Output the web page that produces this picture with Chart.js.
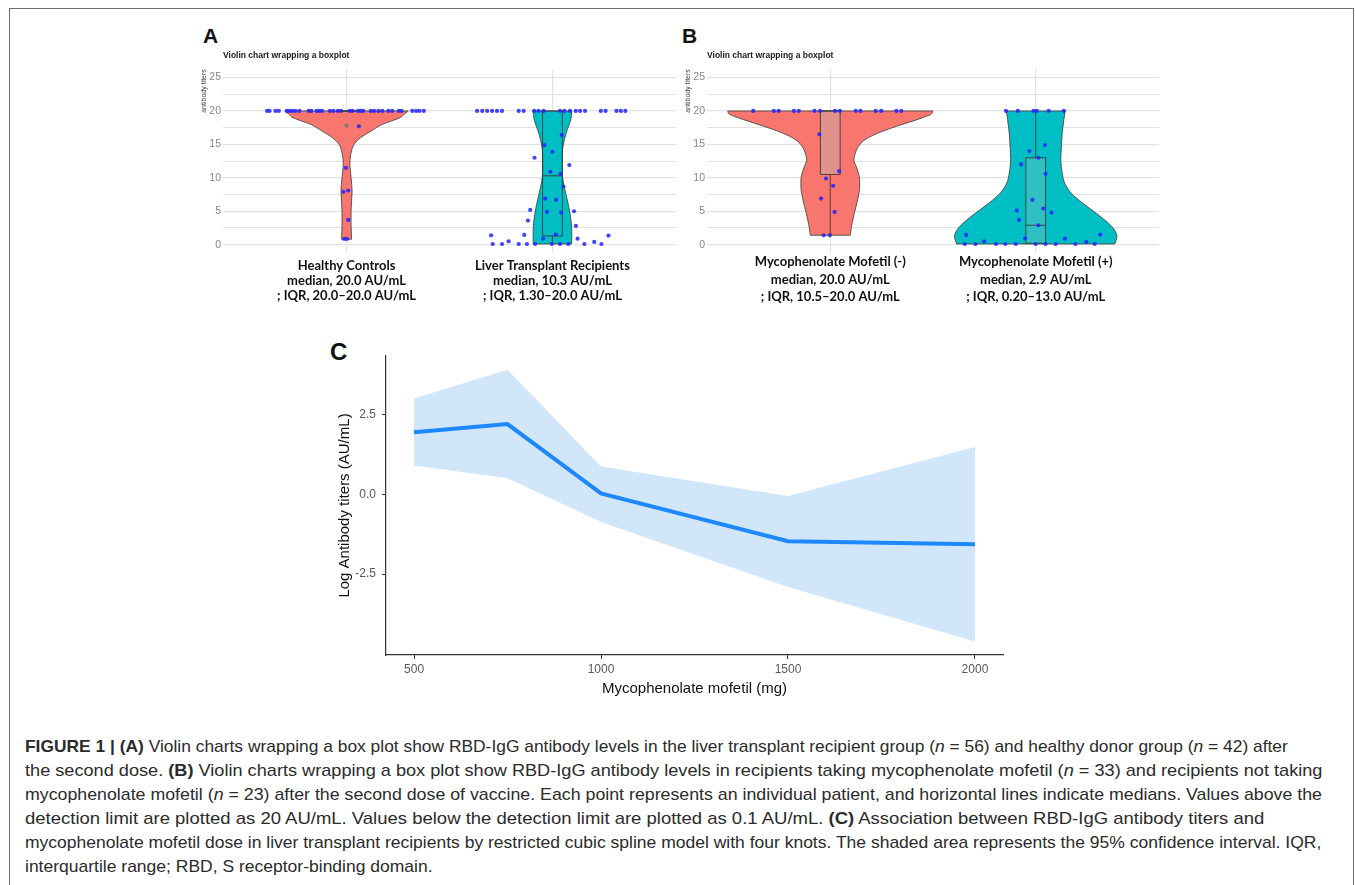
<!DOCTYPE html>
<html>
<head>
<meta charset="utf-8">
<script src="https://cdn.jsdelivr.net/npm/chart.js@4.4.0/dist/chart.umd.min.js"></script>
<style>
  html, body { margin: 0; padding: 0; background: #fff; }
  body { width: 1355px; height: 885px; position: relative; overflow: hidden; font-family: 'Liberation Sans', Arial, sans-serif; }
  .frame { position: absolute; left: 9px; top: 8px; width: 1345px; height: 900px; border: 1.5px solid #6f6f6f; border-bottom: none; box-sizing: border-box; }
  .letter { position: absolute; font-weight: bold; color: #111; line-height: 1; }
  .panel { position: absolute; }
  .cap { position: absolute; left: 25px; white-space: nowrap; font-size: 17px; line-height: 24px; color: #2b2b2b; transform-origin: 0 50%; }
</style>
</head>
<body>
<div class="frame"></div>

<div class="letter" style="left:203px; top:25px; font-size:21px;">A</div>
<div class="letter" style="left:682px; top:25px; font-size:21px;">B</div>
<div class="letter" style="left:330px; top:340px; font-size:24px;">C</div>

<div class="panel" style="left:195px; top:48px;"><canvas id="chartA" width="485" height="262"></canvas></div>
<div class="panel" style="left:679px; top:48px;"><canvas id="chartB" width="484" height="262"></canvas></div>
<div class="panel" style="left:330px; top:336px;"><canvas id="chartC" width="690" height="364"></canvas></div>

<div class="cap" style="top:735px;" data-right="1288"><b>FIGURE 1 | (A)</b> Violin charts wrapping a box plot show RBD-IgG antibody levels in the liver transplant recipient group (<i>n</i> = 56) and healthy donor group (<i>n</i> = 42) after</div>
<div class="cap" style="top:759px;" data-right="1322">the second dose. <b>(B)</b> Violin charts wrapping a box plot show RBD-IgG antibody levels in recipients taking mycophenolate mofetil (<i>n</i> = 33) and recipients not taking</div>
<div class="cap" style="top:783px;" data-right="1322">mycophenolate mofetil (<i>n</i> = 23) after the second dose of vaccine. Each point represents an individual patient, and horizontal lines indicate medians. Values above the</div>
<div class="cap" style="top:807px;" data-right="1264">detection limit are plotted as 20 AU/mL. Values below the detection limit are plotted as 0.1 AU/mL. <b>(C)</b> Association between RBD-IgG antibody titers and</div>
<div class="cap" style="top:831px;" data-right="1321">mycophenolate mofetil dose in liver transplant recipients by restricted cubic spline model with four knots. The shaded area represents the 95% confidence interval. IQR,</div>
<div class="cap" style="top:855px;">interquartile range; RBD, S receptor-binding domain.</div>

<script>
// ---- panel A: healthy controls vs liver transplant recipients ----
const catsA = ['Healthy Controls', 'Liver Transplant Recipients'];
const mediansA = ['median, 20.0 AU/mL', 'median, 10.3 AU/mL'];
const iqrsA = ['; IQR, 20.0\u201320.0 AU/mL', '; IQR, 1.30\u201320.0 AU/mL'];

// violin outlines: y levels and half widths (in category units)
const hcViolinY = [0.8, 1, 3, 5, 8, 10, 11, 12, 13, 14, 15, 16, 17, 18, 19, 19.5, 20];
const hcViolinW = [0.024, 0.024, 0.022, 0.022, 0.027, 0.022, 0.019, 0.016, 0.018, 0.024, 0.036, 0.068, 0.12, 0.174, 0.26, 0.28, 0.30];
const ltrViolinY = [0.1, 1.2, 2.7, 4.7, 6.7, 8.7, 10.2, 11.7, 13.7, 15.7, 17.2, 18.7, 20];
const ltrViolinW = [0.093, 0.094, 0.093, 0.085, 0.072, 0.057, 0.049, 0.0475, 0.048, 0.058, 0.072, 0.089, 0.094];

// box stats: lower whisker, q1, median, q3, upper whisker
const hcBox = [20, 20, 20, 20, 20];
const ltrBox = [0.1, 1.3, 10.3, 20, 20];

// individual patients (jitter offset from the category centre, titer)
const hcDotDx = [-0.386, -0.374, -0.345, -0.329, -0.290, -0.277, -0.264, -0.248, -0.229, -0.184, -0.171, -0.145,
  -0.132, -0.119, -0.081, -0.064, -0.042, -0.027, 0.016, 0.029, 0.056, 0.069, 0.081, 0.118, 0.134, 0.155, 0.174,
  0.203, 0.222, 0.254, 0.267, 0.319, 0.338, 0.354, 0.375,
  0.06, -0.003, -0.015, 0.008, 0.008, -0.011, 0.002];
const hcDotY = [20, 20, 20, 20, 20, 20, 20, 20, 20, 20, 20, 20, 20, 20, 20, 20, 20, 20, 20, 20, 20, 20, 20, 20, 20,
  20, 20, 20, 20, 20, 20, 20, 20, 20, 20,
  17.7, 11.5, 7.9, 8.1, 3.7, 0.85, 0.85];
const hcOutlierY = [17.8];

const ltrDotDx = [-0.366, -0.341, -0.317, -0.293, -0.269, -0.245, -0.164, -0.140, -0.089, -0.068, -0.043, 0.037,
  0.058, 0.085, 0.113, 0.134, 0.158, 0.235, 0.258, 0.311, 0.332, 0.354,
  0.045, -0.039, 0, -0.087, 0.082, -0.010, 0.039, 0.053, -0.035, 0.018, -0.108, -0.027, 0.042, 0.105, -0.119, 0.114,
  -0.298, -0.137, 0.016, -0.045, 0.122, 0.272, -0.213, 0.203,
  -0.290, -0.245, -0.164, -0.124, -0.084, -0.003, 0.037, 0.077, 0.155, 0.238];
const ltrDotY = [20, 20, 20, 20, 20, 20, 20, 20, 20, 20, 20, 20, 20, 20, 20, 20, 20, 20, 20, 20, 20, 20,
  16.4, 14.9, 13.9, 13.0, 11.9, 10.9, 10.6, 8.7, 6.9, 6.7, 5.2, 4.9, 4.8, 5.0, 3.6, 2.8,
  1.4, 1.45, 1.5, 0.9, 0.9, 1.35, 0.5, 0.4,
  0.1, 0.1, 0.1, 0.1, 0.1, 0.1, 0.1, 0.1, 0.1, 0.1];

// ---- panel B: mycophenolate mofetil (-) vs (+) ----
const catsB = ['Mycophenolate Mofetil (-)', 'Mycophenolate Mofetil (+)'];
const mediansB = ['median, 20.0 AU/mL', 'median, 2.9 AU/mL'];
const iqrsB = ['; IQR, 10.5\u201320.0 AU/mL', '; IQR, 0.20\u201313.0 AU/mL'];

const mmfNoViolinY = [1.4, 2.7, 4.7, 6.7, 8.7, 9.7, 10.7, 11.7, 12.7, 13.7, 14.7, 15.7, 16.7, 17.7, 18.7, 19.2, 19.5, 20];
const mmfNoViolinW = [0.097, 0.103, 0.117, 0.133, 0.143, 0.143, 0.137, 0.126, 0.115, 0.122, 0.137, 0.169, 0.233, 0.322, 0.422, 0.467, 0.491, 0.499];
const mmfYesViolinY = [0.1, 1.2, 2.2, 3.2, 4.7, 6.2, 7.7, 9.2, 10.7, 12.7, 14.7, 16.7, 18.7, 20];
const mmfYesViolinW = [0.385, 0.395, 0.383, 0.354, 0.294, 0.229, 0.173, 0.141, 0.129, 0.122, 0.125, 0.129, 0.137, 0.143];

const mmfNoBox = [1.4, 10.5, 20, 20, 20];
const mmfYesBox = [0.1, 0.2, 2.9, 13.0, 20];

const mmfNoDotDx = [-0.375, -0.275, -0.251, -0.177, -0.153, -0.077, -0.050, 0.023, 0.047, 0.124, 0.147, 0.221, 0.248, 0.322, 0.346,
  -0.053, 0.043, -0.021, 0.014, -0.045, 0.021, -0.032, -0.002];
const mmfNoDotY = [20, 20, 20, 20, 20, 20, 20, 20, 20, 20, 20, 20, 20, 20, 20,
  16.5, 11.0, 9.9, 8.8, 6.9, 4.9, 1.4, 1.4];

const mmfYesDotDx = [-0.145, -0.087, -0.011, 0.005, 0.063, 0.137,
  0.045, -0.031, 0.013, -0.071, 0.048, -0.016, 0.037, -0.092, 0.077, -0.081, 0.013, -0.338, 0.314, -0.052, 0.142, -0.251, 0.246,
  -0.345, -0.293, -0.193, -0.148, -0.097, 0, 0.048, 0.097, 0.193, 0.287];
const mmfYesDotY = [20, 20, 20, 20, 20, 20,
  14.9, 14.0, 13.0, 12.0, 10.6, 6.7, 5.4, 5.1, 4.8, 3.7, 2.9, 1.45, 1.5, 0.95, 0.9, 0.5, 0.4,
  0.1, 0.1, 0.1, 0.1, 0.1, 0.1, 0.1, 0.1, 0.1, 0.1];

const violinTicks = [0, 2.5, 5, 7.5, 10, 12.5, 15, 17.5, 20, 22.5, 25];

// ---- panel C: restricted cubic spline ----
const doseC = [500, 750, 1000, 1500, 2000];
const fitC = [1.94, 2.2, 0.03, -1.47, -1.56];
const upperC = [3.0, 3.9, 0.87, -0.05, 1.48];
const lowerC = [0.9, 0.5, -0.87, -2.9, -4.61];
const xTicksC = [500, 1000, 1500, 2000];
const yTicksC = [-2.5, 0, 2.5];

Chart.defaults.font.family = "'Liberation Sans', Arial, sans-serif";

const outline = '#3a3a3a';
const red = '#F8766D';
const teal = '#00BFC4';
const dotBlue = 'rgba(35,35,255,0.85)';
const boxHalf = 0.048;

function gap() {
  return {x: null, y: null};
}

function violin(center, ys, hws, color) {
  var left = ys.map((y, i) => ({x: center - hws[i], y: y}));
  var right = ys.map((y, i) => ({x: center + hws[i], y: y}));
  var last = ys.length - 1;
  var caps = [{x: center - hws[0], y: ys[0]}, {x: center + hws[0], y: ys[0]}, gap(),
    {x: center - hws[last], y: ys[last]}, {x: center + hws[last], y: ys[last]}];
  var st = {borderColor: outline, borderWidth: 0.8, pointRadius: 0, order: 3};
  return [
    Object.assign({data: caps, fill: false}, st),
    Object.assign({data: left, fill: false, cubicInterpolationMode: 'monotone'}, st),
    Object.assign({data: right, fill: '-1', backgroundColor: color, cubicInterpolationMode: 'monotone'}, st)
  ];
}

function boxplot(center, stats, fillColor) {
  var lo = stats[0], q1 = stats[1], med = stats[2], q3 = stats[3], hi = stats[4];
  var l = center - boxHalf, r = center + boxHalf;
  var st = {borderColor: outline, borderWidth: 0.9, pointRadius: 0, order: 2};
  return [
    Object.assign({data: [{x: l, y: q1}, {x: r, y: q1}, gap(), {x: l, y: med}, {x: r, y: med}, gap(),
      {x: l, y: q3}, {x: r, y: q3}, gap(), {x: center, y: lo}, {x: center, y: q1}, gap(),
      {x: center, y: q3}, {x: center, y: hi}], fill: false}, st),
    Object.assign({data: [{x: l, y: q1}, {x: l, y: q3}], fill: false}, st),
    Object.assign({data: [{x: r, y: q1}, {x: r, y: q3}], fill: '-1', backgroundColor: fillColor}, st)
  ];
}

function dots(center, dx, ys, color) {
  return {
    data: ys.map((y, i) => ({x: center + dx[i], y: y})),
    showLine: false, fill: false, pointRadius: 2.1, pointBackgroundColor: color,
    pointBorderWidth: 0, borderWidth: 0, order: 1
  };
}

function violinOptions(cats, medians, iqrs, tickPad, lineH) {
  return {
    responsive: false,
    animation: false,
    indexAxis: 'y',
    layout: {padding: {right: 2}},
    plugins: {
      legend: {display: false},
      tooltip: {enabled: false},
      title: {
        display: true, text: 'Violin chart wrapping a boxplot', align: 'start', fullSize: false,
        color: '#1a1a1a', font: {size: 8.5, weight: 'bold'}, padding: {top: 3, bottom: 8}
      }
    },
    scales: {
      x: {
        type: 'linear', min: 0.4, max: 2.6,
        afterBuildTicks: s => { s.ticks = cats.map((c, i) => ({value: i + 1})); },
        afterFit: s => { s.height = 57; },
        grid: {color: '#e2e2e2', lineWidth: 1.2, drawTicks: false},
        border: {display: false},
        ticks: {
          autoSkip: false, maxRotation: 0, padding: tickPad, color: '#111',
          font: {family: 'Lato', size: 13, weight: 'bold', lineHeight: lineH},
          callback: (v, i) => [cats[i], medians[i], iqrs[i]]
        }
      },
      y: {
        type: 'linear', min: -1.25, max: 26.25,
        afterBuildTicks: s => { s.ticks = violinTicks.map(v => ({value: v})); },
        afterFit: s => { s.width = 28; },
        grid: {color: '#e2e2e2', lineWidth: c => (c.tick && c.tick.value % 5 === 0 ? 1.3 : 1), drawTicks: false},
        border: {display: false},
        ticks: {padding: 2, color: '#858585', font: {size: 10.5}, callback: v => (v % 5 === 0 ? String(v) : '')},
        title: {display: true, text: 'antibody titers', align: 'end', color: '#444', font: {size: 7}, padding: {top: 5, bottom: 0}}
      }
    }
  };
}

new Chart(document.getElementById('chartA'), {
  type: 'line',
  data: {
    datasets: [
      dots(1, hcDotDx, hcDotY, dotBlue),
      dots(2, ltrDotDx, ltrDotY, dotBlue),
      dots(1, [0], hcOutlierY, '#8d7473')
    ].concat(
      boxplot(1, hcBox, 'rgba(0,0,0,0)'),
      boxplot(2, ltrBox, 'rgba(0,0,0,0)'),
      violin(1, hcViolinY, hcViolinW, red),
      violin(2, ltrViolinY, ltrViolinW, teal)
    )
  },
  options: violinOptions(catsA, mediansA, iqrsA, 5.5, 1.154)
});

new Chart(document.getElementById('chartB'), {
  type: 'line',
  data: {
    datasets: [
      dots(1, mmfNoDotDx, mmfNoDotY, dotBlue),
      dots(2, mmfYesDotDx, mmfYesDotY, dotBlue)
    ].concat(
      boxplot(1, mmfNoBox, 'rgba(190,190,190,0.4)'),
      boxplot(2, mmfYesBox, 'rgba(190,190,190,0.25)'),
      violin(1, mmfNoViolinY, mmfNoViolinW, red),
      violin(2, mmfYesViolinY, mmfYesViolinW, teal)
    )
  },
  options: violinOptions(catsB, mediansB, iqrsB, 0, 1.35)
});

new Chart(document.getElementById('chartC'), {
  type: 'line',
  data: {
    datasets: [
      {data: doseC.map((d, i) => ({x: d, y: fitC[i]})), borderColor: '#1E88FF', borderWidth: 4, pointRadius: 0, fill: false, order: 0},
      {data: doseC.map((d, i) => ({x: d, y: upperC[i]})), borderWidth: 0, pointRadius: 0, fill: false, order: 1},
      {data: doseC.map((d, i) => ({x: d, y: lowerC[i]})), borderWidth: 0, pointRadius: 0, fill: '-1', backgroundColor: '#D2E6FA', order: 1}
    ]
  },
  options: {
    responsive: false,
    animation: false,
    layout: {padding: {top: 20, right: 17}},
    plugins: {legend: {display: false}, tooltip: {enabled: false}},
    scales: {
      x: {
        type: 'linear', min: 425, max: 2075,
        afterBuildTicks: s => { s.ticks = xTicksC.map(v => ({value: v})); },
        afterFit: s => { s.height = 45; },
        grid: {drawOnChartArea: false, drawTicks: true, tickLength: 4, color: '#333'},
        border: {color: '#333', width: 1.2},
        ticks: {padding: 3, color: '#595959', font: {size: 12}, callback: v => String(v)},
        title: {display: true, text: 'Mycophenolate mofetil (mg)', color: '#111', font: {size: 15}, padding: {top: 0, bottom: 2}}
      },
      y: {
        type: 'linear', min: -5.03, max: 4.33,
        afterBuildTicks: s => { s.ticks = yTicksC.map(v => ({value: v})); },
        afterFit: s => { s.width = 56; },
        grid: {drawOnChartArea: false, drawTicks: true, tickLength: 4, color: '#333'},
        border: {color: '#333', width: 1.2},
        ticks: {padding: 6, color: '#595959', font: {size: 12}, callback: v => v.toFixed(1)},
        title: {display: true, text: 'Log Antibody titers (AU/mL)', color: '#111', font: {size: 15}, padding: {top: 6, bottom: 0}}
      }
    }
  }
});

// fit each caption line to the justified width of the original
var caps = document.querySelectorAll('.cap');
var lastScale = 1;
caps.forEach(function (el) {
  var right = parseFloat(el.getAttribute('data-right'));
  if (right) {
    lastScale = (right - 25) / el.offsetWidth;
  }
  el.style.transform = 'scaleX(' + lastScale + ')';
});
</script>
</body>
</html>
